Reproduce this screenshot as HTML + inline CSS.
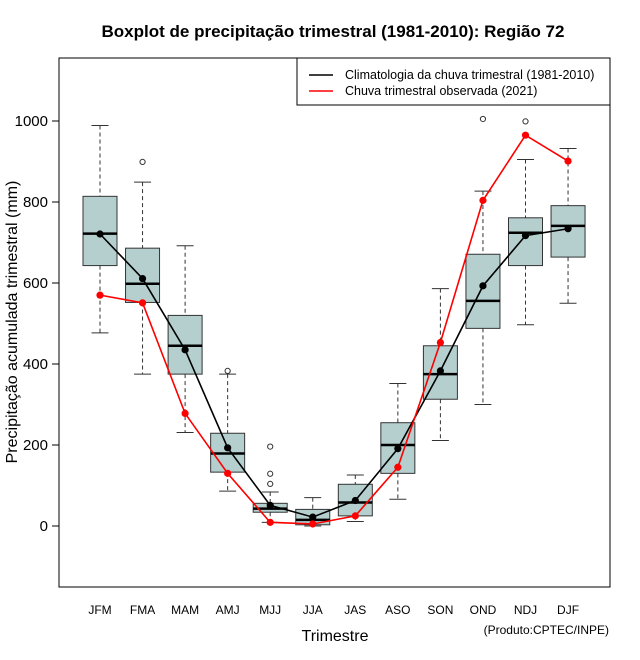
<!DOCTYPE html>
<html><head><meta charset="utf-8"><style>
body{margin:0;background:#fff}
svg{display:block;font-family:"Liberation Sans",sans-serif}
</style></head><body>
<svg id="c" width="640" height="660" viewBox="0 0 640 660">
<text x="333" y="37" text-anchor="middle" font-size="17" font-weight="bold">Boxplot de precipitação trimestral (1981-2010): Região 72</text>
<rect x="59" y="58" width="551" height="529" fill="none" stroke="#000"/>
<g id="yaxis"></g>
<g id="xaxis"></g>
<g id="boxes"></g>
<g id="lines"></g>
<text transform="translate(17,322) rotate(-90)" text-anchor="middle" font-size="16">Precipitação acumulada trimestral (mm)</text>
<text x="335" y="641" text-anchor="middle" font-size="16">Trimestre</text>
<text x="609" y="634" text-anchor="end" font-size="12">(Produto:CPTEC/INPE)</text>
<g>
<rect x="297" y="58" width="313" height="47" fill="#fff" stroke="#000"/>
<line x1="309" y1="75" x2="333" y2="75" stroke="#000" stroke-width="1.5"/>
<text x="345" y="79" font-size="12.5">Climatologia da chuva trimestral (1981-2010)</text>
<line x1="309" y1="91" x2="333" y2="91" stroke="#f00" stroke-width="1.5"/>
<text x="345" y="95" font-size="12.5">Chuva trimestral observada (2021)</text>
</g>
</svg>
<script>
const categories=["JFM","FMA","MAM","AMJ","MJJ","JJA","JAS","ASO","SON","OND","NDJ","DJF"];
const whiskerLow=[477,375,231,86,9,0,11,66,211,300,497,550];
const q1=[643,552,375,133,34,3,25,130,313,488,643,664];
const median=[722,598,445,179,43,15,58,200,375,556,724,741];
const q3=[814,686,520,229,56,41,103,255,445,671,761,791];
const whiskerHigh=[989,849,692,375,84,70,126,352,586,827,905,932];
const outliers=[[],[899],[],[383],[196,129,104],[],[],[],[],[1005],[999],[]];
const climMean=[721,611,435,193,51,22,63,191,383,593,717,734];
const observed=[570,551,278,130,9,5,25,145,453,804,965,901];
const yTicks=[0,200,400,600,800,1000];

const NS="http://www.w3.org/2000/svg";
function y(v){return 526-v*0.405;}
function x(i){return 100+i*42.55;}
function mk(parent,tag,attrs){const e=document.createElementNS(NS,tag);for(const k in attrs)e.setAttribute(k,attrs[k]);parent.appendChild(e);return e;}
const ya=document.getElementById('yaxis'),xa=document.getElementById('xaxis'),bx=document.getElementById('boxes'),ln=document.getElementById('lines');
mk(ya,'line',{x1:59,x2:59,y1:y(0),y2:y(1000),stroke:'#000'});
yTicks.forEach(t=>{
  const l=mk(ya,'line',{x1:52,x2:59,y1:y(t),y2:y(t),stroke:'#000'});
  
  
  const tx=mk(ya,'text',{x:48,y:y(t)+5,'text-anchor':'end','font-size':15});
  tx.textContent=t;
  
  
});
categories.forEach((c,i)=>{
  const tx=mk(xa,'text',{x:x(i),y:614,'text-anchor':'middle','font-size':12});
  tx.textContent=c;
  
  
  const g=mk(bx,'g',{});
  
  
  const cx=x(i),hw=17,cw=8.5;
  mk(g,'line',{x1:cx,x2:cx,y1:y(whiskerHigh[i]),y2:y(q3[i]),stroke:'#333','stroke-dasharray':'4,3'});
  mk(g,'line',{x1:cx,x2:cx,y1:y(q1[i]),y2:y(whiskerLow[i]),stroke:'#333','stroke-dasharray':'4,3'});
  mk(g,'line',{x1:cx-cw,x2:cx+cw,y1:y(whiskerHigh[i]),y2:y(whiskerHigh[i]),stroke:'#333'});
  mk(g,'line',{x1:cx-cw,x2:cx+cw,y1:y(whiskerLow[i]),y2:y(whiskerLow[i]),stroke:'#333'});
  mk(g,'rect',{x:cx-hw,y:y(q3[i]),width:2*hw,height:y(q1[i])-y(q3[i]),fill:'#b5cfcf',stroke:'#333'});
  mk(g,'line',{x1:cx-hw,x2:cx+hw,y1:y(median[i]),y2:y(median[i]),stroke:'#000','stroke-width':2.5});
  outliers[i].forEach(o=>{mk(g,'circle',{cx:cx,cy:y(o),r:2.6,fill:'none',stroke:'#333'});});
});
function series(vals,color,name){
  const pts=vals.map((v,i)=>x(i)+','+y(v)).join(' ');
  const p=mk(ln,'polyline',{points:pts,fill:'none',stroke:color,'stroke-width':1.6});
  
  
  vals.forEach((v,i)=>{
    const c=mk(ln,'circle',{cx:x(i),cy:y(v),r:3.6,fill:color});
    
    
  });
}
series(climMean,'#000','climatology');
series(observed,'#f00','observed');
</script>
</body></html>
